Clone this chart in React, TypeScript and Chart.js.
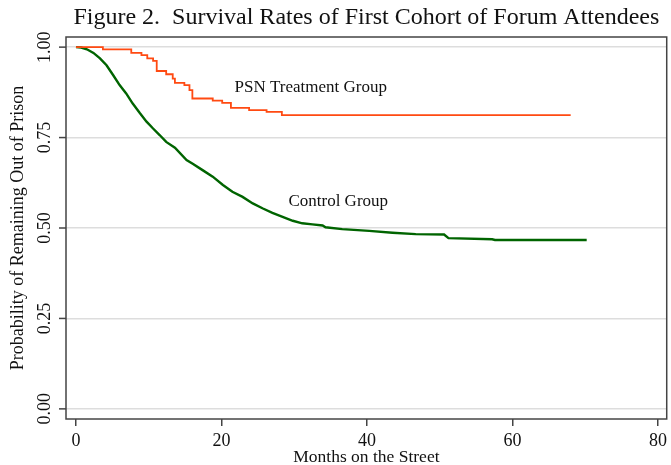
import { useEffect, useRef } from 'react';
import { Chart, registerables } from 'chart.js';

Chart.register(...registerables);

const TITLE = 'Figure 2.  Survival Rates of First Cohort of Forum Attendees';
const X_TITLE = 'Months on the Street';
const Y_TITLE = 'Probability of Remaining Out of Prison';

const X_TICKS = [0, 20, 40, 60, 80];
const Y_TICKS = [0, 0.25, 0.5, 0.75, 1.0];
const Y_TICK_LABELS = ['0.00', '0.25', '0.50', '0.75', '1.00'];

const PSN_MONTHS = [0, 3.7, 7.6, 9.0, 9.8, 10.6, 11.1, 12.4, 13.3, 13.6, 14.9, 15.6, 16.0, 18.8, 20.1, 21.3, 23.8, 26.2, 28.3, 68.0];
const PSN_SURV = [1.0, 0.994, 0.984, 0.978, 0.969, 0.962, 0.934, 0.925, 0.913, 0.901, 0.895, 0.881, 0.858, 0.852, 0.846, 0.832, 0.826, 0.821, 0.812, 0.812];

const CONTROL_MONTHS = [
  0, 0.7, 1.5, 2.4, 3.3, 4.2, 5.1, 6.0, 6.9, 7.8, 8.8, 9.7, 10.6, 11.5, 12.4, 13.6, 15.2, 16.1, 17.4, 18.8,
  20.2, 21.5, 22.9, 24.3, 25.7, 27.0, 28.4, 29.8, 31.1, 32.5, 33.9, 34.3, 36.6, 40.3, 43.5, 46.7, 50.6, 51.2,
  57.2, 57.6, 70.2,
];
const CONTROL_SURV = [
  1.0, 0.999, 0.994, 0.984, 0.969, 0.95, 0.923, 0.895, 0.872, 0.844, 0.817, 0.794, 0.775, 0.757, 0.738, 0.722,
  0.688, 0.677, 0.66, 0.642, 0.619, 0.6, 0.586, 0.568, 0.554, 0.542, 0.531, 0.52, 0.513, 0.51, 0.507, 0.502,
  0.497, 0.492, 0.487, 0.483, 0.482, 0.472, 0.469, 0.467, 0.467,
];

const LABEL_TEXT = ['PSN Treatment Group', 'Control Group'];
const LABEL_X = [21.8, 29.2];
const LABEL_Y = [0.887, 0.572];

const FONT = '"Liberation Serif", "Times New Roman", serif';

export default function App() {
  const ref = useRef<HTMLCanvasElement>(null);

  useEffect(() => {
    document.body.style.margin = '0';
    const overlay = {
      id: 'overlay',
      afterDraw(chart: any) {
        const ctx = chart.ctx as CanvasRenderingContext2D;
        const area = chart.chartArea;
        const xs = chart.scales.x;
        const ys = chart.scales.y;
        ctx.save();
        // frame
        ctx.strokeStyle = '#444';
        ctx.lineWidth = 1.5;
        ctx.strokeRect(area.left, area.top, area.right - area.left, area.bottom - area.top);
        // y tick marks + labels
        ctx.fillStyle = '#111';
        ctx.font = `18px ${FONT}`;
        Y_TICKS.forEach((v, i) => {
          const py = ys.getPixelForValue(v);
          ctx.beginPath();
          ctx.moveTo(area.left - 7, py);
          ctx.lineTo(area.left, py);
          ctx.stroke();
          ctx.save();
          ctx.translate(45, py);
          ctx.rotate(-Math.PI / 2);
          ctx.textAlign = 'center';
          ctx.textBaseline = 'middle';
          ctx.fillText(Y_TICK_LABELS[i], 0, 0);
          ctx.restore();
        });
        // y title
        ctx.save();
        ctx.translate(18, (area.top + area.bottom) / 2);
        ctx.rotate(-Math.PI / 2);
        ctx.textAlign = 'center';
        ctx.textBaseline = 'middle';
        ctx.font = `18px ${FONT}`;
        ctx.fillText(Y_TITLE, 0, 0);
        ctx.restore();
        // x title
        ctx.textAlign = 'center';
        ctx.textBaseline = 'middle';
        ctx.font = `17.5px ${FONT}`;
        ctx.fillText(X_TITLE, (area.left + area.right) / 2, 457);
        // title
        ctx.font = `24px ${FONT}`;
        ctx.fillText(TITLE, (area.left + area.right) / 2, 18);
        // annotations
        ctx.textAlign = 'left';
        ctx.font = `17px ${FONT}`;
        LABEL_TEXT.forEach((t, i) => {
          ctx.fillText(t, xs.getPixelForValue(LABEL_X[i]), ys.getPixelForValue(LABEL_Y[i]));
        });
        ctx.restore();
      },
    };

    const chart = new Chart(ref.current!, {
      type: 'line',
      data: {
        datasets: [
          {
            label: 'PSN Treatment Group',
            data: PSN_MONTHS.map((m, i) => ({ x: m, y: PSN_SURV[i] })),
            borderColor: '#ff4a12',
            borderWidth: 1.8,
            stepped: 'before',
            pointRadius: 0,
            fill: false,
          },
          {
            label: 'Control Group',
            data: CONTROL_MONTHS.map((m, i) => ({ x: m, y: CONTROL_SURV[i] })),
            borderColor: '#006400',
            borderWidth: 2.4,
            pointRadius: 0,
            tension: 0,
            fill: false,
          },
        ],
      },
      options: {
        responsive: false,
        animation: false,
        layout: { padding: { top: 37, right: 1, left: 0, bottom: 0 } },
        plugins: {
          legend: { display: false },
          title: { display: false },
          tooltip: { enabled: false },
        },
        scales: {
          x: {
            type: 'linear',
            min: -1.37,
            max: 81.2,
            afterBuildTicks: (s: any) => {
              s.ticks = X_TICKS.map((v) => ({ value: v }));
            },
            afterFit: (s: any) => {
              s.height = 46;
            },
            grid: { drawOnChartArea: false, drawTicks: true, tickLength: 7, color: '#444', lineWidth: 1.5 },
            border: { display: false },
            ticks: {
              font: { family: FONT, size: 18 },
              color: '#111',
              padding: 4,
              maxRotation: 0,
              minRotation: 0,
              autoSkip: false,
            },
          },
          y: {
            type: 'linear',
            min: -0.028,
            max: 1.028,
            afterBuildTicks: (s: any) => {
              s.ticks = Y_TICKS.map((v) => ({ value: v }));
            },
            afterFit: (s: any) => {
              s.width = 66;
            },
            grid: { color: '#dddddd', lineWidth: 1.5, drawTicks: false },
            border: { display: false },
            ticks: { display: false },
          },
        },
      },
      plugins: [overlay],
    } as any);
    return () => chart.destroy();
  }, []);

  return (
    <div style={{ width: 671, height: 465 }}>
      <canvas ref={ref} width={671} height={465} style={{ display: 'block' }} />
    </div>
  );
}
